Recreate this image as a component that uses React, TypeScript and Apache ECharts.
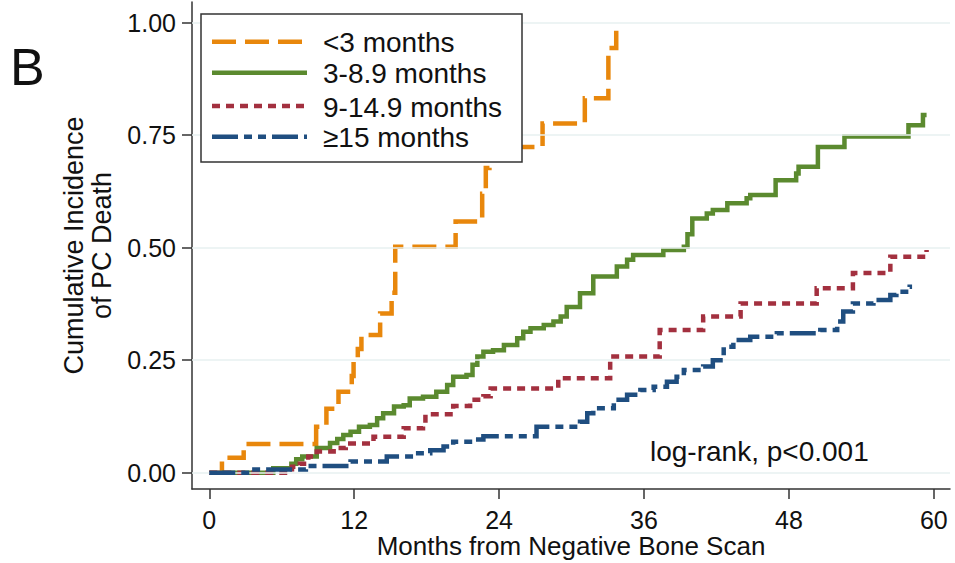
import React, { useEffect, useRef } from "react";
import * as echarts from "echarts";

const xTicks = [0, 12, 24, 36, 48, 60];
const yTicks = [0, 0.25, 0.5, 0.75, 1];

const seriesNames = ["<3 months", "3-8.9 months", "9-14.9 months", "≥15 months"];
const seriesColors = ["#e8870c", "#5b8a2f", "#a3303f", "#1f4e80"];
const seriesDash: (number[] | "solid")[] = [[24, 9], "solid", [8, 6], [26, 6, 8, 6, 8, 6]];

// [months, cumulative incidence]
const lt3Months = [
  [0, 0], [1.05, 0.033], [2.85, 0.064], [8.85, 0.102], [9.7, 0.142], [10.7, 0.18],
  [11.8, 0.215], [11.95, 0.25], [12.3, 0.275], [12.6, 0.306], [14.15, 0.354],
  [15.1, 0.4], [15.4, 0.502], [20.4, 0.558], [22.6, 0.62], [22.9, 0.677],
  [23.2, 0.724], [27.6, 0.776], [31.1, 0.832], [33.05, 0.944], [33.7, 1.0],
];
const m3to9 = [
  [1.05, 0], [5.3, 0.01], [6.8, 0.02], [7.2, 0.03], [7.7, 0.036], [8.9, 0.055],
  [10.0, 0.066], [10.6, 0.075], [11.1, 0.084], [11.7, 0.091], [12.4, 0.102],
  [13.3, 0.106], [13.9, 0.121], [14.4, 0.132], [15.3, 0.147], [16.1, 0.15],
  [16.6, 0.165], [17.7, 0.169], [18.8, 0.18], [19.7, 0.195], [20.2, 0.213],
  [21.3, 0.217], [21.8, 0.24], [22.2, 0.258], [22.7, 0.269], [23.5, 0.272],
  [24.4, 0.284], [25.5, 0.299], [26.0, 0.313], [26.6, 0.321], [27.7, 0.328],
  [28.5, 0.336], [29.1, 0.347], [29.6, 0.368], [30.7, 0.399], [31.8, 0.436],
  [33.75, 0.458], [34.6, 0.473], [35.1, 0.484], [37.6, 0.495], [39.3, 0.502],
  [39.6, 0.53], [40.0, 0.565], [41.2, 0.576], [41.7, 0.584], [42.9, 0.599],
  [44.5, 0.61], [44.8, 0.617], [46.9, 0.65], [48.6, 0.665], [48.8, 0.68],
  [50.4, 0.724], [52.6, 0.747], [57.9, 0.772], [59.1, 0.795], [59.4, 0.795],
];
const m9to15 = [
  [0, 0], [6.85, 0.013], [7.5, 0.02], [8.2, 0.036], [8.9, 0.047], [10.3, 0.055],
  [11.3, 0.065], [13.6, 0.08], [16.1, 0.099], [17.7, 0.11], [17.9, 0.13],
  [20.2, 0.148], [21.6, 0.162], [22.7, 0.17], [23.3, 0.187], [28.9, 0.21],
  [33.2, 0.258], [37.3, 0.317], [40.9, 0.347], [44.0, 0.376], [50.3, 0.41],
  [53.3, 0.444], [56.4, 0.48], [59.4, 0.495],
];
const ge15 = [
  [0, 0], [3.5, 0.007], [8.0, 0.015], [11.7, 0.025], [14.7, 0.036], [16.9, 0.043],
  [18.3, 0.05], [19.4, 0.058], [20.2, 0.069], [21.9, 0.074], [22.7, 0.081],
  [27.1, 0.102], [30.7, 0.113], [31.3, 0.132], [31.8, 0.143], [33.5, 0.162],
  [34.6, 0.173], [35.7, 0.184], [36.8, 0.191], [37.9, 0.202], [38.7, 0.213],
  [39.3, 0.228], [40.9, 0.236], [41.7, 0.25], [42.6, 0.28], [43.4, 0.295],
  [44.8, 0.302], [47.0, 0.31], [50.6, 0.317], [52.0, 0.336], [52.5, 0.358],
  [53.3, 0.376], [55.0, 0.384], [56.4, 0.395], [56.9, 0.402], [58.0, 0.413],
  [58.2, 0.413],
];
const seriesData = [lt3Months, m3to9, m9to15, ge15];

const FONT = "'Liberation Sans', Arial, Helvetica, sans-serif";
const TEXT = "#111111";
const AXIS = "#333333";

export default function App() {
  const ref = useRef<HTMLDivElement>(null);
  useEffect(() => {
    document.body.style.margin = "0";
    if (!ref.current) return;
    const chart = echarts.init(ref.current, undefined, { renderer: "svg" });

    const legendRows = [41.7, 72.7, 106, 136.7];
    const legendGraphics: any[] = [
      {
        type: "rect",
        shape: { x: 201, y: 14, width: 321, height: 148 },
        style: { fill: "#ffffff", stroke: "#333333", lineWidth: 1.5 },
        z: 100,
      },
    ];
    seriesNames.forEach((name, i) => {
      const dash = seriesDash[i];
      legendGraphics.push({
        type: "line",
        shape: { x1: 212, y1: legendRows[i], x2: 307, y2: legendRows[i] },
        style: {
          stroke: seriesColors[i],
          lineWidth: 4.5,
          lineDash: dash === "solid" ? null : dash,
          lineCap: "butt",
        },
        z: 101,
      });
      legendGraphics.push({
        type: "text",
        x: 323,
        y: legendRows[i] + 1,
        style: {
          text: name,
          fill: TEXT,
          font: `28px ${FONT}`,
          verticalAlign: "middle",
          align: "left",
        },
        z: 101,
      });
    });

    const option: any = {
      animation: false,
      backgroundColor: "#ffffff",
      grid: {
        left: 192,
        right: 5,
        top: 2,
        bottom: 74,
        containLabel: false,
        outerBoundsMode: "none",
      },
      xAxis: {
        type: "value",
        min: -1.43,
        max: 61.34,
        name: "Months from Negative Bone Scan",
        nameLocation: "middle",
        nameGap: 44,
        nameMoveOverlap: false,
        nameTextStyle: { fontSize: 26, lineHeight: 26, color: TEXT, fontFamily: FONT },
        axisLine: { show: true, onZero: false, lineStyle: { color: AXIS, width: 1.5 } },
        axisTick: { show: true, length: 10, customValues: xTicks, lineStyle: { color: AXIS, width: 1.5 } },
        axisLabel: {
          customValues: xTicks,
          fontSize: 25,
          color: TEXT,
          fontFamily: FONT,
          margin: 18,
        },
        splitLine: { show: false },
      },
      yAxis: {
        type: "value",
        min: -0.0362,
        max: 1.046,
        name: "Cumulative Incidence\nof PC Death",
        nameLocation: "middle",
        nameRotate: 90,
        nameGap: 76,
        nameMoveOverlap: false,
        nameTextStyle: { fontSize: 27, lineHeight: 28, color: TEXT, fontFamily: FONT, align: "center" },
        axisLine: { show: true, onZero: false, lineStyle: { color: AXIS, width: 1.5 } },
        axisTick: { show: true, length: 10, customValues: yTicks, lineStyle: { color: AXIS, width: 1.5 } },
        axisLabel: {
          customValues: yTicks,
          fontSize: 25,
          color: TEXT,
          fontFamily: FONT,
          margin: 16,
          formatter: (v: number) => v.toFixed(2),
        },
        splitLine: { show: false },
      },
      series: [
        {
          type: "line",
          data: [],
          silent: true,
          z: 1,
          markLine: {
            silent: true,
            symbol: "none",
            label: { show: false },
            lineStyle: { color: "#e7f0f1", width: 1.5, type: "solid" },
            data: yTicks.map((v) => ({ yAxis: v })),
          },
        },
        ...seriesNames.map((name, i) => ({
          type: "line",
          name,
          step: "end",
          data: seriesData[i],
          showSymbol: false,
          symbol: "none",
          z: 2 + i,
          lineStyle: {
            color: seriesColors[i],
            width: 4.5,
            type: seriesDash[i],
            cap: "butt",
            join: "miter",
          },
        })),
      ],
      graphic: [
        {
          type: "text",
          x: 10,
          y: 67,
          style: { text: "B", fill: TEXT, font: `52px ${FONT}`, verticalAlign: "middle" },
        },
        {
          type: "text",
          x: 650,
          y: 451,
          style: {
            text: "log-rank, p<0.001",
            fill: TEXT,
            font: `28px ${FONT}`,
            verticalAlign: "middle",
          },
        },
        ...legendGraphics,
      ],
    };
    chart.setOption(option);
    return () => chart.dispose();
  }, []);
  return <div ref={ref} style={{ width: 955, height: 563 }} />;
}
